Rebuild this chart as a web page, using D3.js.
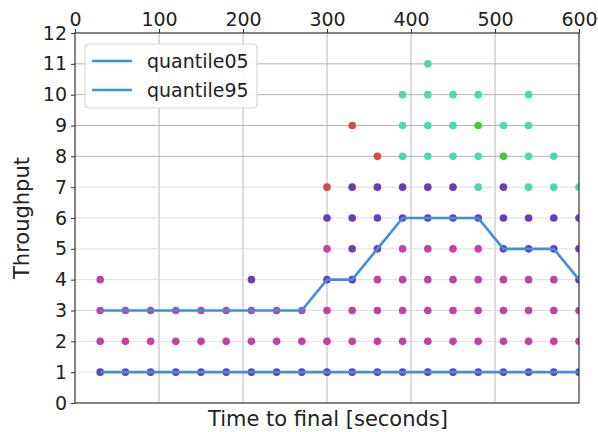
<!DOCTYPE html>
<html><head><meta charset="utf-8">
<script src="https://cdn.jsdelivr.net/npm/d3@7"></script>
<style>
body{margin:0;background:#fff;}
text{font-family:"DejaVu Sans",sans-serif;fill:#222;}
</style></head>
<body><svg id="c" width="598" height="432"></svg>
<script>
// ---- data ----
const times = [30,60,90,120,150,180,210,240,270,300,330,360,390,420,450,480,510,540,570,600];
// per time: colour code for y = 1,2,3,... ('.' = no point)
const pointCodes = ["PMMM","PMM","PMM","PMM","PMM","PMM","PMMP","PMM","PMM",
  "PMMPMPR","PMMPPPP.R","PMMMPPPR","PMMMMPPTTT","PMMMMPPTTTT","PMMMMPPTTT",
  "PMMMMPTTGT","PMMMPPPGT","PMMMPPTTTT","PMMMPPTT","PMMPPPT"];
const colourOf = {P:"#6b3cb8", M:"#c6409f", T:"#46dbb0", G:"#3ccc3c", R:"#d84a4a"};
const quantile05 = [1,1,1,1,1,1,1,1,1,1,1,1,1,1,1,1,1,1,1,1];
const quantile95 = [3,3,3,3,3,3,3,3,3,4,4,5,6,6,6,6,5,5,5,4];
const seriesNames = ["quantile05","quantile95"];
const xTicks = [0,100,200,300,400,500,600];
const yTicks = [0,1,2,3,4,5,6,7,8,9,10,11,12];

// ---- layout ----
const L=75,R=579,T=33,B=403;
const svg=d3.select("#c");
const x=d3.scaleLinear().domain([0,600]).range([L,R]);
const y=d3.scaleLinear().domain([0,12]).range([B,T]);

svg.append("defs").append("clipPath").attr("id","clip")
  .append("rect").attr("x",L).attr("y",T).attr("width",R-L).attr("height",B-T);

// grid
const g=svg.append("g");
g.selectAll(".vg").data(xTicks.slice(1,-1)).join("line")
  .attr("x1",d=>x(d)).attr("x2",d=>x(d)).attr("y1",T).attr("y2",B)
  .attr("stroke","#b8b8b8").attr("stroke-width",1);
g.selectAll(".hg").data(yTicks.slice(1,-1)).join("line")
  .attr("x1",L).attr("x2",R).attr("y1",d=>y(d)).attr("y2",d=>y(d))
  .attr("stroke",d=>d>=8?"#b4b4b4":"#e0dde4").attr("stroke-width",1);

// points
const pts=[];
times.forEach((t,i)=>{
  pointCodes[i].split("").forEach((c,j)=>{ if(c!==".") pts.push({t, v:j+1, c}); });
});
const pg=svg.append("g").attr("clip-path","url(#clip)");
pg.selectAll("circle").data(pts).join("circle")
  .attr("cx",d=>x(d.t)).attr("cy",d=>y(d.v)).attr("r",3.8)
  .attr("fill",d=>colourOf[d.c]);

// lines
const lineColor="#3d8fe0";
const line=d3.line().x((d,i)=>x(times[i])).y(d=>y(d));
[quantile05,quantile95].forEach(s=>{
  pg.append("path").datum(s).attr("d",line).attr("fill","none")
    .attr("stroke",lineColor).attr("stroke-width",2.6).attr("stroke-linejoin","round");
});

// frame
svg.append("rect").attr("x",L).attr("y",T).attr("width",R-L).attr("height",B-T)
  .attr("fill","none").attr("stroke","#333").attr("stroke-width",1.2);

// axes
const axTop=svg.append("g").attr("transform",`translate(0,${T})`)
  .call(d3.axisTop(x).tickValues(xTicks).tickSize(4).tickPadding(3).tickFormat(d3.format("d")));
const axLeft=svg.append("g").attr("transform",`translate(${L},0)`)
  .call(d3.axisLeft(y).tickValues(yTicks).tickSize(4).tickPadding(4).tickFormat(d3.format("d")));
[axTop,axLeft].forEach(a=>{
  a.select(".domain").remove();
  a.selectAll(".tick line").attr("stroke","#333");
  a.selectAll(".tick text").attr("font-family","DejaVu Sans").attr("font-size",19).attr("fill","#222");
});

// labels
svg.append("text").attr("x",(L+R)/2+1).attr("y",426).attr("text-anchor","middle")
  .attr("font-size",21).text("Time to final [seconds]");
svg.append("text").attr("transform",`translate(29,${(T+B)/2}) rotate(-90)`)
  .attr("text-anchor","middle").attr("font-size",21).text("Throughput");

// legend
const lg=svg.append("g");
lg.append("rect").attr("x",85).attr("y",44).attr("width",172).attr("height",64).attr("rx",4)
  .attr("fill","#fff").attr("fill-opacity",0.85).attr("stroke","#d0d0d0");
seriesNames.forEach((n,i)=>{
  const yy=61+i*29;
  lg.append("line").attr("x1",92).attr("x2",132).attr("y1",yy).attr("y2",yy)
    .attr("stroke",lineColor).attr("stroke-width",2.6);
  lg.append("text").attr("x",147).attr("y",yy+7).attr("font-size",19).text(n);
});
</script></body></html>
